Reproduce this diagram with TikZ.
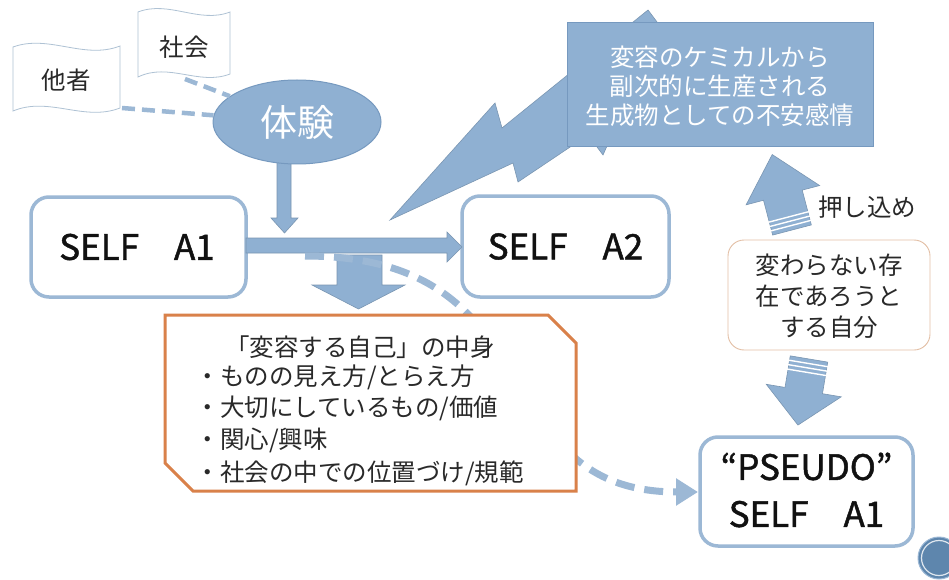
\documentclass[tikz,border=0pt]{standalone}
\usepackage{fontspec}
\setmainfont{Noto Sans CJK JP}
\newfontfamily\heavyfont{Noto Sans CJK JP}[FakeBold=1.3]
\usetikzlibrary{shapes.geometric,arrows.meta}
\definecolor{bfill}{HTML}{8FB0D2}
\definecolor{bline}{HTML}{9CB8D5}
\definecolor{bdark}{HTML}{7699BF}
\definecolor{orng}{HTML}{D9814A}
\definecolor{tanline}{HTML}{E3BFA5}
\definecolor{wavecol}{HTML}{AFC2D4}
\definecolor{txt}{HTML}{111111}
\definecolor{dotblue}{HTML}{5E86AD}
\tikzset{
  wavedoc/.style={draw=wavecol, line width=0.8pt, fill=white},
  blockarrow/.style={fill=bfill, draw=bfill!85!black, line width=0.6pt},
  selfbox/.style={draw=bline, line width=3.5pt, rounded corners=18pt, fill=white},
  bigtext/.style={font=\heavyfont\fontsize{35}{47}\selectfont, text=txt, align=center},
  jtext/.style={font=\fontsize{24.5}{31}\selectfont, text=txt!90!white},
  dashthin/.style={draw=bline, line width=4.5pt, dash pattern=on 13pt off 7pt},
  dashthick/.style={draw=bline, line width=7pt, dash pattern=on 19pt off 10pt},
  stripe/.style={draw=white, line width=1.4pt},
}
\begin{document}
\begin{tikzpicture}[x=1pt,y=-1pt]
\useasboundingbox (0,0) rectangle (949,580);
\fill[white] (0,0) rectangle (949,580);

% wavy documents
\draw[wavedoc] (13,47) .. controls (49,34) and (84,60) .. (120,46)
   -- (120,108) .. controls (84,122) and (49,96) .. (13,111) -- cycle;
\node[jtext] (tasha) at (66,80) {他者};
\draw[wavedoc] (138,12) .. controls (169,0) and (199,24) .. (230,12)
   -- (230,74) .. controls (199,86) and (169,62) .. (138,77) -- cycle;
\node[jtext] (shakai) at (184,47) {社会};

% experience ellipse
\coordinate (tashaEnd) at (122,108);
\coordinate (shakaiEnd) at (185,79);
\draw[blockarrow] (277,150) -- (291,150) -- (291,218) -- (298,218) -- (284.5,233)
   -- (271,218) -- (277,218) -- cycle;
\node[ellipse, minimum width=168pt, minimum height=84pt, fill=bfill, draw=bdark,
      line width=1pt, text=white, font=\fontsize{37}{40}\selectfont] (taiken) at (297,122) {体験};
\draw[dashthin] (tashaEnd) -- (taiken);
\draw[dashthin] (shakaiEnd) -- (taiken);

% SELF boxes
\draw[selfbox] (31,197) rectangle (246,297);
\node[bigtext] (selfA) at (137,247) {SELF　A1};
\draw[selfbox] (462,196) rectangle (669,297);
\node[bigtext] (selfB) at (565.5,246.5) {SELF　A2};

% lightning bolt
\draw[blockarrow] (390,220) -- (495,103) -- (502,128) -- (648,10) -- (660,26)
   -- (603,155) -- (588,135) -- (518,182) -- (513,163) -- cycle;

% anxiety rectangle
\draw[fill=bfill, draw=bdark, line width=1pt] (567,23) rectangle (873,147);
\node[font=\fontsize{24.5}{29}\selectfont, text=white, align=center] (anx) at (720,86)
   {変容のケミカルから\\副次的に生産される\\生成物としての不安感情};

% horizontal arrow A1 -> A2
\draw[blockarrow] (246,238) -- (447,238) -- (447,232) -- (462,247)
   -- (447,262) -- (447,253) -- (246,253) -- cycle;

% block arrow down to contents
\draw[blockarrow] (337,255) -- (382,255) -- (382,285) -- (405,285) -- (358.5,309)
   -- (312,285) -- (337,285) -- cycle;

% pseudo self box
\draw[selfbox] (700,437) rectangle (913,546);
\node[bigtext] (pseudo) at (806.5,490) {“PSEUDO”\\SELF　A1};
\coordinate (pseudoW) at (698,492);

% dashed curve to pseudo self
\coordinate (curveStart) at (305,256);
\draw[dashthick, -{Triangle[length=22pt,width=26pt]}] (curveStart)
   .. controls (560,256) and (480,492) .. (pseudoW);

% contents box (snipped corners)
\draw[fill=white, draw=orng, line width=3pt] (165,315) -- (548,315) -- (576,343)
   -- (576,491) -- (193,491) -- (165,463) -- cycle;
\node[jtext] (ctitle) at (360,347) {「変容する自己」の中身};
\node[jtext, anchor=west] (c1) at (192,377) {・ものの見え方/とらえ方};
\node[jtext, anchor=west] (c2) at (192,408) {・大切にしているもの/価値};
\node[jtext, anchor=west] (c3) at (192,440) {・関心/興味};
\node[jtext, anchor=west] (c4) at (192,473) {・社会の中での位置づけ/規範};

% unchanging self box
\draw[draw=tanline, line width=0.9pt, rounded corners=16pt, fill=white] (728,240) rectangle (930,350);
\node[jtext, align=center] (fixed) at (829,296) {変わらない存\\在であろうと\\する自分};

% up striped arrow (push in)
\begin{scope}[shift={(792,230)}, rotate=14.7]
  \draw[blockarrow] (-20,0) -- (-20,-36) -- (-38,-36) -- (0,-78) -- (38,-36)
     -- (20,-36) -- (20,0) -- cycle;
  \draw[stripe] (-21,-4.5) -- (21,-4.5);
  \draw[stripe] (-21,-9) -- (21,-9);
  \draw[stripe] (-21,-13.5) -- (21,-13.5);
\end{scope}
\node[font=\fontsize{24.5}{28}\selectfont, text=txt!90!white] (oshi) at (867,207) {押し込め};

% down striped arrow
\begin{scope}[shift={(809,359)}, rotate=-9.5]
  \draw[blockarrow] (-19,0) -- (19,0) -- (19,32) -- (38,32) -- (0,67)
     -- (-38,32) -- (-19,32) -- cycle;
  \draw[stripe] (-20,4.5) -- (20,4.5);
  \draw[stripe] (-20,9) -- (20,9);
  \draw[stripe] (-20,13.5) -- (20,13.5);
\end{scope}

% decorative circle
\fill[dotblue] (939,558) circle (21);
\draw[white!80!dotblue, line width=1.2pt] (939,558) circle (17.5);
\draw[bline, line width=1pt] (939,558) circle (21);
\end{tikzpicture}
\end{document}
